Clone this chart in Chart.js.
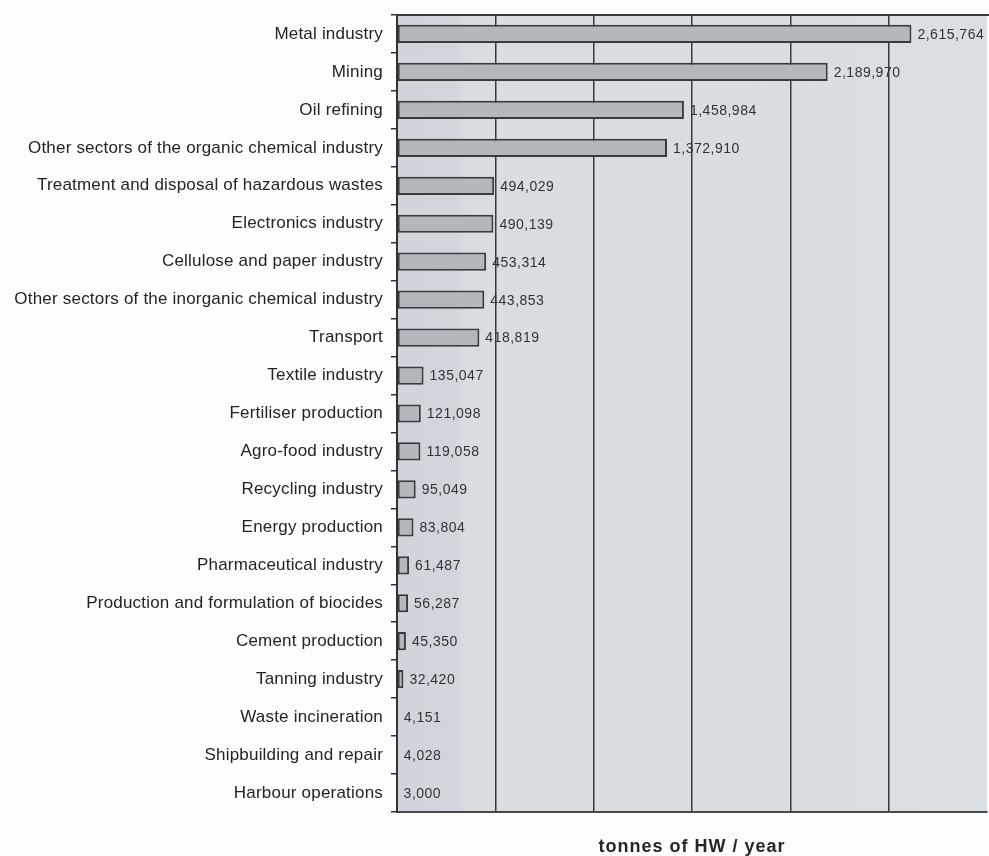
<!DOCTYPE html>
<html>
<head>
<meta charset="utf-8">
<title>Hazardous waste by sector</title>
<script src="https://cdn.jsdelivr.net/npm/chart.js@4"></script>
<style>
  html, body { margin: 0; padding: 0; background: #fdfdfd; }
  #wrap { width: 989px; height: 856px; position: relative; }
</style>
</head>
<body>
<div id="wrap"><canvas id="hw-chart"></canvas></div>
<script>
// Hazardous waste generated per sector (tonnes per year)
const sectors = [
  'Metal industry',
  'Mining',
  'Oil refining',
  'Other sectors of the organic chemical industry',
  'Treatment and disposal of hazardous wastes',
  'Electronics industry',
  'Cellulose and paper industry',
  'Other sectors of the inorganic chemical industry',
  'Transport',
  'Textile industry',
  'Fertiliser production',
  'Agro-food industry',
  'Recycling industry',
  'Energy production',
  'Pharmaceutical industry',
  'Production and formulation of biocides',
  'Cement production',
  'Tanning industry',
  'Waste incineration',
  'Shipbuilding and repair',
  'Harbour operations'
];

const tonnes = [
  2615764, 2189970, 1458984, 1372910, 494029, 490139, 453314, 443853, 418819,
  135047, 121098, 119058, 95049, 83804, 61487, 56287, 45350, 32420,
  4151, 4028, 3000
];

const axisMax = 3000000;
const axisStep = 500000;
const axisTitle = 'tonnes of HW / year';

const FONT = "'Liberation Sans', Arial, Helvetica, sans-serif";

// shaded plot background, top frame line and the axis caption
const plotFrame = {
  id: 'plotFrame',
  beforeDraw(chart) {
    const { ctx, chartArea: a } = chart;
    ctx.save();
    const g = ctx.createLinearGradient(a.left, 0, a.right, 0);
    g.addColorStop(0, '#cfd5da');
    g.addColorStop(0.1, '#d0d6db');
    g.addColorStop(0.115, '#d8dde2');
    g.addColorStop(1, '#dadfe4');
    ctx.fillStyle = g;
    ctx.fillRect(a.left, a.top, a.right - a.left, a.bottom - a.top);
    ctx.restore();
    // category labels on the y axis are set slightly wider
    if ('letterSpacing' in ctx) ctx.letterSpacing = '0.2px';
  },
  afterDraw(chart) {
    const { ctx, chartArea: a } = chart;
    if ('letterSpacing' in ctx) ctx.letterSpacing = '0px';
    ctx.save();
    ctx.strokeStyle = '#3a3a3a';
    ctx.lineWidth = 2;
    ctx.beginPath();
    ctx.moveTo(a.left, a.top);
    ctx.lineTo(a.right + 2, a.top);
    ctx.stroke();

    ctx.font = 'bold 18px ' + FONT;
    ctx.fillStyle = '#262626';
    ctx.textAlign = 'center';
    ctx.textBaseline = 'middle';
    if ('letterSpacing' in ctx) ctx.letterSpacing = '1px';
    ctx.fillText(axisTitle, (a.left + a.right) / 2, chart.scales.x.bottom - 9);
    ctx.restore();
  }
};

// value printed just past the end of every bar
const valueLabels = {
  id: 'valueLabels',
  afterDatasetsDraw(chart) {
    const { ctx } = chart;
    const meta = chart.getDatasetMeta(0);
    ctx.save();
    ctx.font = '14px ' + FONT;
    ctx.fillStyle = '#333';
    ctx.textAlign = 'left';
    ctx.textBaseline = 'middle';
    if ('letterSpacing' in ctx) ctx.letterSpacing = '0.5px';
    meta.data.forEach((bar, i) => {
      ctx.fillText(tonnes[i].toLocaleString('en-US'), bar.x + 6, bar.y + 1);
    });
    ctx.restore();
  }
};

new Chart(document.getElementById('hw-chart'), {
  type: 'bar',
  data: {
    labels: sectors,
    datasets: [{
      data: tonnes,
      backgroundColor: '#b3b8bd',
      borderColor: '#3b3b3b',
      borderWidth: 2,
      borderSkipped: false,
      categoryPercentage: 1,
      barPercentage: 0.48
    }]
  },
  options: {
    indexAxis: 'y',
    responsive: true,
    maintainAspectRatio: false,
    animation: false,
    layout: { padding: { top: 15, right: 2, bottom: 0, left: 0 } },
    plugins: {
      legend: { display: false },
      tooltip: { enabled: false }
    },
    scales: {
      x: {
        min: 0,
        max: axisMax,
        ticks: { display: false, stepSize: axisStep },
        grid: {
          color: (c) => (c.tick && c.tick.value >= axisMax ? 'rgba(0,0,0,0)' : '#3a3a3a'),
          lineWidth: 1.5,
          drawTicks: false
        },
        border: { display: true, color: '#4a4a4a', width: 2 },
        title: { display: false },
        afterFit(scale) { scale.height = 44; }
      },
      y: {
        grid: { drawOnChartArea: false, drawTicks: true, tickLength: 6, color: '#333', lineWidth: 1.5 },
        border: { display: true, color: '#333', width: 2 },
        ticks: {
          color: '#242424',
          padding: 8,
          autoSkip: false,
          font: { family: FONT, size: 17 }
        },
        afterFit(scale) {
          scale.width = 397;
          scale.paddingTop = 0;
          scale.paddingBottom = 0;
        }
      }
    }
  },
  plugins: [plotFrame, valueLabels]
});
</script>
</body>
</html>
